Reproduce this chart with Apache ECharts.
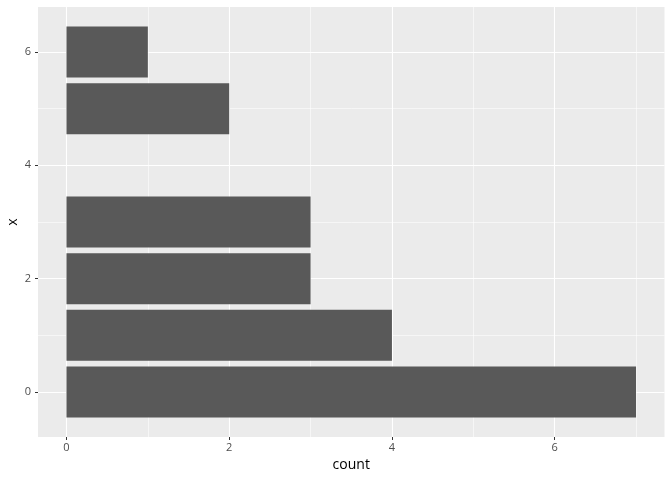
<!DOCTYPE html>
<html>
<head>
<meta charset="utf-8">
<script src="https://cdn.jsdelivr.net/npm/echarts@6/dist/echarts.min.js"></script>
<style>html,body{margin:0;padding:0;background:#fff}#c{width:672px;height:480px}</style>
</head>
<body>
<div id="c"></div>
<script>
var xValues = [0, 1, 2, 3, 5, 6];
var counts = [7, 4, 3, 3, 2, 1];
var countTicks = [0, 2, 4, 6];
var countMinor = [1, 3, 5, 7];
var xTicks = [0, 2, 4, 6];
var xMinor = [1, 3, 5];

var barHalf = 0.45;
var xMin = -0.35, xMax = 7.35;
var yMin = -0.795, yMax = 6.795;
var font = 'Open Sans';

var data = xValues.map(function (v, i) { return [counts[i], v]; });

var chart = echarts.init(document.getElementById('c'), null, {renderer: 'canvas'});
chart.setOption({
  animation: false,
  grid: {left: 38, right: 7.5, top: 7, bottom: 43, show: true, backgroundColor: '#EBEBEB', borderWidth: 0, containLabel: false, outerBoundsMode: 'none'},
  xAxis: [{
    type: 'value', min: xMin, max: xMax, position: 'bottom',
    name: 'count', nameLocation: 'middle', nameGap: 20,
    nameTextStyle: {color: '#000', fontSize: 14, fontFamily: font},
    axisLine: {show: false, onZero: false},
    axisTick: {show: true, length: 3, customValues: countTicks, lineStyle: {color: '#333333', width: 1}},
    axisLabel: {customValues: countTicks, color: '#4D4D4D', fontSize: 11, fontFamily: font, margin: 5},
    splitLine: {show: true, lineStyle: {color: '#FFFFFF', width: 1.1}}
  }, {
    type: 'value', min: xMin, max: xMax, position: 'top',
    axisLine: {show: false, onZero: false},
    axisTick: {show: false, customValues: countMinor},
    axisLabel: {show: false, customValues: countMinor},
    splitLine: {show: true, lineStyle: {color: '#FFFFFF', width: 0.55}}
  }],
  yAxis: [{
    type: 'value', min: yMin, max: yMax, position: 'left',
    name: 'x', nameLocation: 'middle', nameGap: 18, nameMoveOverlap: false,
    nameTextStyle: {color: '#000', fontSize: 14, fontFamily: font},
    axisLine: {show: false, onZero: false},
    axisTick: {show: true, length: 3, customValues: xTicks, lineStyle: {color: '#333333', width: 1}},
    axisLabel: {customValues: xTicks, color: '#4D4D4D', fontSize: 11, fontFamily: font, margin: 7},
    splitLine: {show: true, lineStyle: {color: '#FFFFFF', width: 1.1}}
  }, {
    type: 'value', min: yMin, max: yMax, position: 'right',
    axisLine: {show: false, onZero: false},
    axisTick: {show: false, customValues: xMinor},
    axisLabel: {show: false, customValues: xMinor},
    splitLine: {show: true, lineStyle: {color: '#FFFFFF', width: 0.55}}
  }],
  series: [{
    type: 'custom',
    xAxisIndex: 0, yAxisIndex: 0,
    encode: {x: 0, y: 1},
    data: data,
    renderItem: function (params, api) {
      var c = api.value(0), v = api.value(1);
      var p0 = api.coord([0, v + barHalf]);
      var p1 = api.coord([c, v - barHalf]);
      return {type: 'rect', shape: {x: p0[0], y: p0[1], width: p1[0] - p0[0], height: p1[1] - p0[1]}, style: {fill: '#595959'}};
    }
  }]
});
</script>
</body>
</html>
